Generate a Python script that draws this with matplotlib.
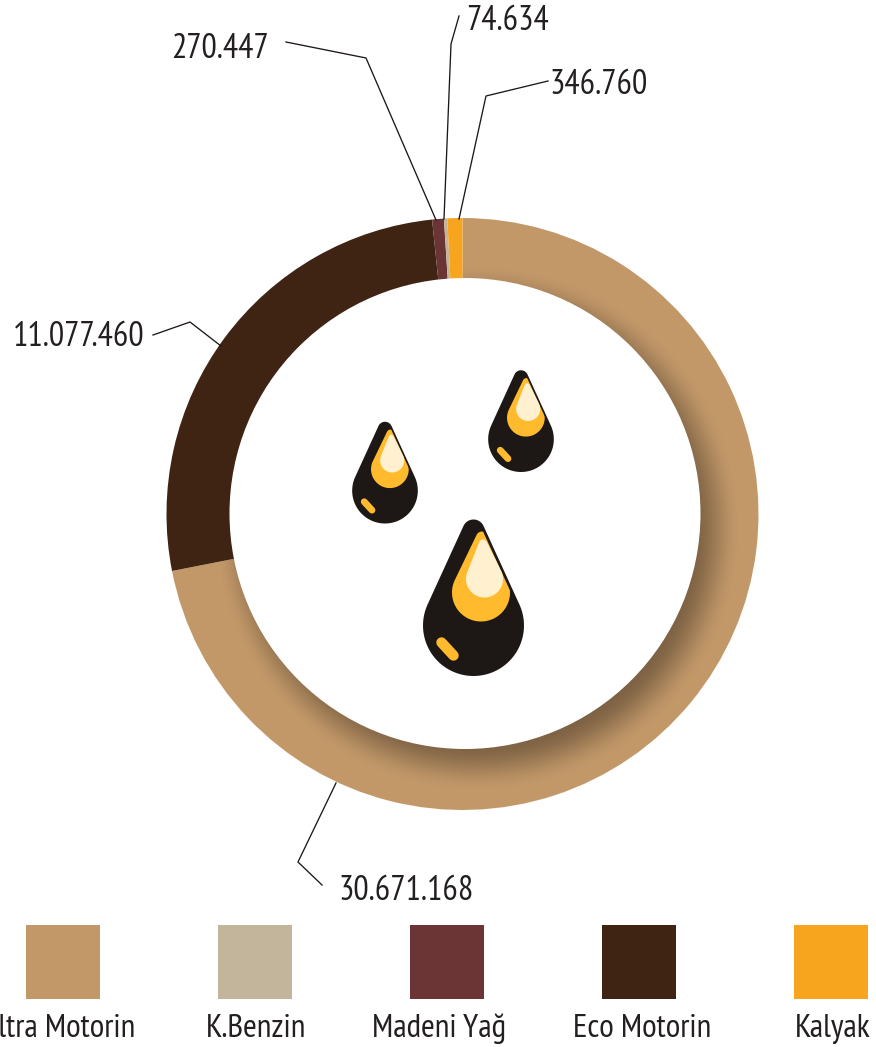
import numpy as np
import matplotlib
matplotlib.use("Agg")
import matplotlib.pyplot as plt
from matplotlib import font_manager as fm
from matplotlib.patches import Circle, Polygon, Rectangle

# condensed face if there is one, otherwise shrink the plain one so labels keep their width
installed = {f.name for f in fm.fontManager.ttflist}
if 'PT Sans Narrow' in installed:
    plt.rcParams['font.family'] = ['PT Sans Narrow', 'Liberation Sans']
    LABEL_SIZE = 24.6
    LEGEND_SIZE = 24
else:
    plt.rcParams['font.family'] = ['Liberation Sans', 'DejaVu Sans']
    LABEL_SIZE = 19.5
    LEGEND_SIZE = 19.5

# chart data
categories = ["Ultra Motorin", "Eco Motorin", "Madeni Yağ", "K.Benzin", "Kalyak"]
values = [30671168, 11077460, 270447, 74634, 346760]
# arc of each slice in degrees as measured on the ring
slice_degrees = [258.9, 95.2, 2.3, 0.65, 2.95]
slice_colors = ["#C29869", "#3F2414", "#6B3435", "#C2B59B", "#F7A51E"]
legend_order = ["Ultra Motorin", "K.Benzin", "Madeni Yağ", "Eco Motorin", "Kalyak"]
legend_text_x = [58, 256.5, 439.5, 642, 833]

W, H = 876, 1047
DROP_BLACK = "#1D1815"
DROP_YELLOW = "#FFBB2D"
DROP_CREAM = "#FFF0CF"
TEXT_COLOR = "#231F20"


def flip(y):
    # reference pixels count y from the top
    return H - y


def hull(x1, y1, r1, x2, y2, r2):
    # outline around two circles, the big one (1) and the small one (2)
    dx, dy = x2 - x1, y2 - y1
    d = np.hypot(dx, dy)
    base = np.arctan2(dy, dx)
    off = np.arccos((r1 - r2) / d)
    a_small = np.linspace(base - off, base + off, 30)
    a_big = np.linspace(base + off, base - off + 2 * np.pi, 80)
    xs = np.r_[x2 + r2 * np.cos(a_small), x1 + r1 * np.cos(a_big)]
    ys = np.r_[y2 + r2 * np.sin(a_small), y1 + r1 * np.sin(a_big)]
    return np.c_[xs, ys]


def draw_drop(ax, cx, bottom, s):
    # big drop measures are used as the unit, s scales them
    cy = bottom + 50.5 * s
    def pts(arr):
        return np.c_[cx + arr[:, 0] * s, cy + arr[:, 1] * s]
    body = pts(hull(0, 0, 50.5, 0, 95, 11))
    ax.add_patch(Polygon(body, fc=DROP_BLACK, ec="none", zorder=5))
    clip = Polygon(pts(hull(-3, 0, 50.5, -3, 95, 11)), transform=ax.transData)
    yellow = Polygon(pts(hull(7.5, 33, 29, 8.5, 88, 6)), fc=DROP_YELLOW, ec="none", zorder=6)
    ax.add_patch(yellow)
    yellow.set_clip_path(clip)
    ax.add_patch(Polygon(pts(hull(11, 46.5, 18.5, 9.5, 82, 4)), fc=DROP_CREAM, ec="none", zorder=7))
    ax.plot([cx - 32 * s, cx - 20 * s], [cy - 17 * s, cy - 30 * s], color=DROP_YELLOW,
            lw=7.5 * s, solid_capstyle="round", zorder=7)


fig = plt.figure(figsize=(W / 100, H / 100), dpi=100)
ax = fig.add_axes([0, 0, 1, 1])

# ring: full pie with a white disc on top, the hole sits a little off centre
wedges, _ = ax.pie(slice_degrees, colors=slice_colors, startangle=90, counterclock=False,
                   radius=296, center=(462.5, flip(514)), frame=True,
                   wedgeprops=dict(linewidth=0))

# soft shadow of the white disc, only on the first slice
xx, yy = np.meshgrid(np.arange(160, 770), np.arange(flip(820), flip(210)))
dist = np.hypot(xx - 477, yy - flip(529))
t = np.clip((dist - 214) / 50, 0, 1)
shade = np.zeros(dist.shape + (4,))
shade[..., 3] = 0.36 * (1 - t * t * (3 - 2 * t))
img = ax.imshow(shade, extent=(160, 770, flip(820), flip(210)), origin="lower",
                aspect="auto", zorder=2, interpolation="bilinear")
img.set_clip_path(wedges[0])

ax.add_patch(Circle((465, flip(513.5)), 235.5, fc="white", ec="none", zorder=3))

draw_drop(ax, 473.5, flip(676), 1.0)
draw_drop(ax, 385, flip(523.5), 0.65)
draw_drop(ax, 521, flip(472), 0.65)

# leader lines and value labels, same order as values
leaders = [
    [(322, 885), (298, 862), (336, 783)],
    [(153, 335), (190, 322), (221, 346)],
    [(286, 42), (366, 58), (436, 220)],
    [(459, 16), (451, 44), (444, 219)],
    [(548, 81), (486, 96), (459, 219)],
]
label_pos = [(338, 891, "left"), (144.5, 337, "right"), (268.5, 49, "right"),
             (466.5, 21, "left"), (549, 85, "left")]
for v, line, (lx, ly, ha) in zip(values, leaders, label_pos):
    ax.plot([p[0] for p in line], [flip(p[1]) for p in line], color="#1D1815", lw=0.95, zorder=8)
    ax.text(lx, flip(ly), f"{v:,}".replace(",", "."), ha=ha, va="center", fontsize=LABEL_SIZE,
            color=TEXT_COLOR, zorder=9)

# legend squares with names under them
for i, name in enumerate(legend_order):
    col = slice_colors[categories.index(name)]
    ax.add_patch(Rectangle((26 + i * 192, flip(999)), 74, 74, fc=col, ec="none"))
    ax.text(legend_text_x[i], flip(1029), name, ha="center", va="center", fontsize=LEGEND_SIZE, color=TEXT_COLOR)

ax.set_xlim(0, W)
ax.set_ylim(0, H)
ax.set_aspect("auto")
ax.axis("off")
fig.savefig("out.png", dpi=100)
